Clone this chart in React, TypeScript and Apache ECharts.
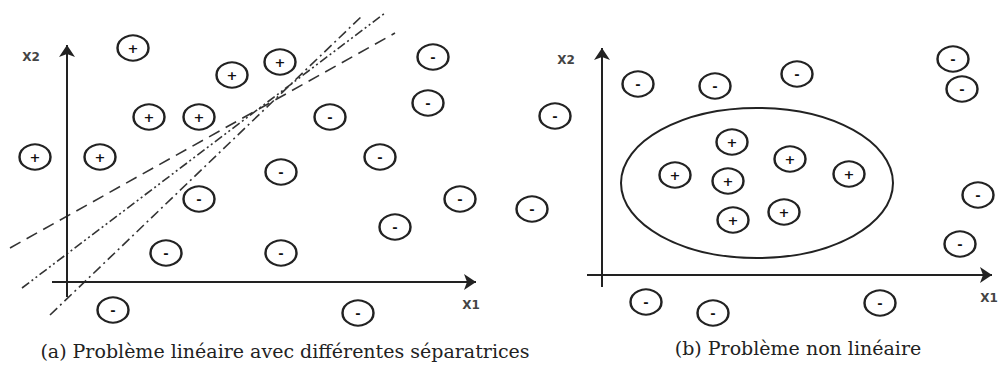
import React, { useEffect, useRef } from 'react';
import * as echarts from 'echarts';

// Panel (a): linear problem — points in axis units (origin at the axes' crossing)
const plusA = [
  [6.6, 23.4], [16.5, 20.7], [21.3, 22.0], [8.2, 16.5], [13.2, 16.5], [-3.2, 12.5], [3.3, 12.5],
];
const minusA = [
  [36.6, 22.5], [36.1, 17.9], [26.3, 16.5], [48.8, 16.6], [31.3, 12.5], [21.4, 11.0], [13.2, 8.3],
  [39.3, 8.3], [46.5, 7.3], [32.8, 5.5], [9.9, 2.9], [21.4, 2.9], [4.6, -2.8], [29.1, -3.1],
];
const sepDashed = [[-5.7, 3.4], [32.8, 24.9]];
const sepDashDotDot = [[-4.5, -0.6], [31.8, 26.9]];
const sepDashDot = [[-1.7, -3.3], [29.6, 26.7]];
const axisA_x = [[-1.5, 0], [40.9, 0]];
const axisA_y = [[0, -1.5], [0, 23.7]];

// Panel (b): non-linear problem
const plusB = [
  [13.0, 13.3], [18.8, 11.6], [24.7, 10.1], [7.3, 10.0], [12.6, 9.4], [13.1, 5.5], [18.2, 6.3],
];
const minusB = [
  [3.6, 19.1], [11.3, 18.9], [19.5, 20.1], [35.1, 21.6], [36.0, 18.6],
  [37.6, 8.0], [35.8, 3.1], [4.4, -2.7], [11.1, -3.8], [27.8, -2.8],
];
const ellipseB = [[15.5, 9.2, 13.6, 7.5]]; // cx, cy, rx, ry
const axisB_x = [[-1.5, 0], [39.0, 0]];
const axisB_y = [[0, -1.2], [0, 22.7]];

const captionA = '(a) Problème linéaire avec différentes séparatrices';
const captionB = '(b) Problème non linéaire';

const INK = '#222';

function arrowSeries(seg: number[][], gi: number) {
  return {
    type: 'line',
    xAxisIndex: gi,
    yAxisIndex: gi,
    data: seg,
    symbol: 'none',
    lineStyle: { opacity: 0 },
    silent: true,
    markLine: {
      silent: true,
      symbol: ['none', 'arrow'],
      symbolSize: 12,
      label: { show: false },
      itemStyle: { color: INK },
      lineStyle: { color: INK, width: 2, type: 'solid' },
      data: [[{ coord: seg[0] }, { coord: seg[1] }]],
    },
  };
}

function sepSeries(seg: number[][], dash: number[]) {
  return {
    type: 'line',
    xAxisIndex: 0,
    yAxisIndex: 0,
    data: seg,
    symbol: 'none',
    silent: true,
    lineStyle: { color: '#333', width: 1.6, type: dash },
    z: 2,
  };
}

function pointSeries(data: number[][], gi: number, sign: string) {
  return {
    type: 'scatter',
    xAxisIndex: gi,
    yAxisIndex: gi,
    data,
    symbol: 'circle',
    symbolSize: [31, 25],
    itemStyle: { color: '#fff', borderColor: INK, borderWidth: 2.2, opacity: 1 },
    label: {
      show: true,
      position: 'inside',
      formatter: sign,
      color: '#111',
      fontSize: 13,
      fontWeight: 'bold',
      fontFamily: 'DejaVu Sans',
    },
    silent: true,
    z: 5,
  };
}

export default function App() {
  const ref = useRef<HTMLDivElement>(null);
  useEffect(() => {
    const chart = echarts.init(ref.current!, null, { renderer: 'svg' });
    chart.setOption({
      animation: false,
      backgroundColor: '#fff',
      grid: [
        { left: 0, top: 0, width: 600, height: 365 },
        { left: 400, top: 0, width: 598, height: 365 },
      ],
      xAxis: [
        { type: 'value', gridIndex: 0, min: -6.7, max: 53.3, show: false },
        { type: 'value', gridIndex: 1, min: -20.2, max: 39.6, show: false },
      ],
      yAxis: [
        { type: 'value', gridIndex: 0, min: -8.3, max: 28.2, show: false },
        { type: 'value', gridIndex: 1, min: -9, max: 27.5, show: false },
      ],
      series: [
        arrowSeries(axisA_x, 0),
        arrowSeries(axisA_y, 0),
        arrowSeries(axisB_x, 1),
        arrowSeries(axisB_y, 1),
        sepSeries(sepDashed, [12, 7]),
        sepSeries(sepDashDotDot, [9, 3, 2, 3, 2, 3]),
        sepSeries(sepDashDot, [10, 4, 2, 4]),
        {
          type: 'custom',
          xAxisIndex: 1,
          yAxisIndex: 1,
          data: ellipseB,
          silent: true,
          z: 3,
          renderItem: (params: any, api: any) => {
            const c = api.coord([api.value(0), api.value(1)]);
            const s = api.size([api.value(2), api.value(3)]);
            return {
              type: 'ellipse',
              shape: { cx: c[0], cy: c[1], rx: s[0], ry: s[1] },
              style: { fill: 'none', stroke: INK, lineWidth: 2 },
            };
          },
        },
        pointSeries(plusA, 0, '+'),
        pointSeries(minusA, 0, '-'),
        pointSeries(plusB, 1, '+'),
        pointSeries(minusB, 1, '-'),
      ],
      graphic: [
        { type: 'text', x: 31, y: 57, style: { text: 'X2', font: 'bold 12px "DejaVu Sans"', fill: '#444', textAlign: 'center', textVerticalAlign: 'middle' } },
        { type: 'text', x: 471, y: 305, style: { text: 'X1', font: 'bold 12px "DejaVu Sans"', fill: '#444', textAlign: 'center', textVerticalAlign: 'middle' } },
        { type: 'text', x: 566, y: 60, style: { text: 'X2', font: 'bold 12px "DejaVu Sans"', fill: '#444', textAlign: 'center', textVerticalAlign: 'middle' } },
        { type: 'text', x: 989, y: 298, style: { text: 'X1', font: 'bold 12px "DejaVu Sans"', fill: '#444', textAlign: 'center', textVerticalAlign: 'middle' } },
        { type: 'text', x: 285, y: 351, style: { text: captionA, font: '19px "DejaVu Serif"', fill: INK, textAlign: 'center', textVerticalAlign: 'middle' } },
        { type: 'text', x: 798, y: 348, style: { text: captionB, font: '19px "DejaVu Serif"', fill: INK, textAlign: 'center', textVerticalAlign: 'middle' } },
      ],
    });
    return () => chart.dispose();
  }, []);
  return (
    <div
      ref={ref}
      style={{ position: 'fixed', left: 0, top: 0, width: 998, height: 365, background: '#fff' }}
    />
  );
}
